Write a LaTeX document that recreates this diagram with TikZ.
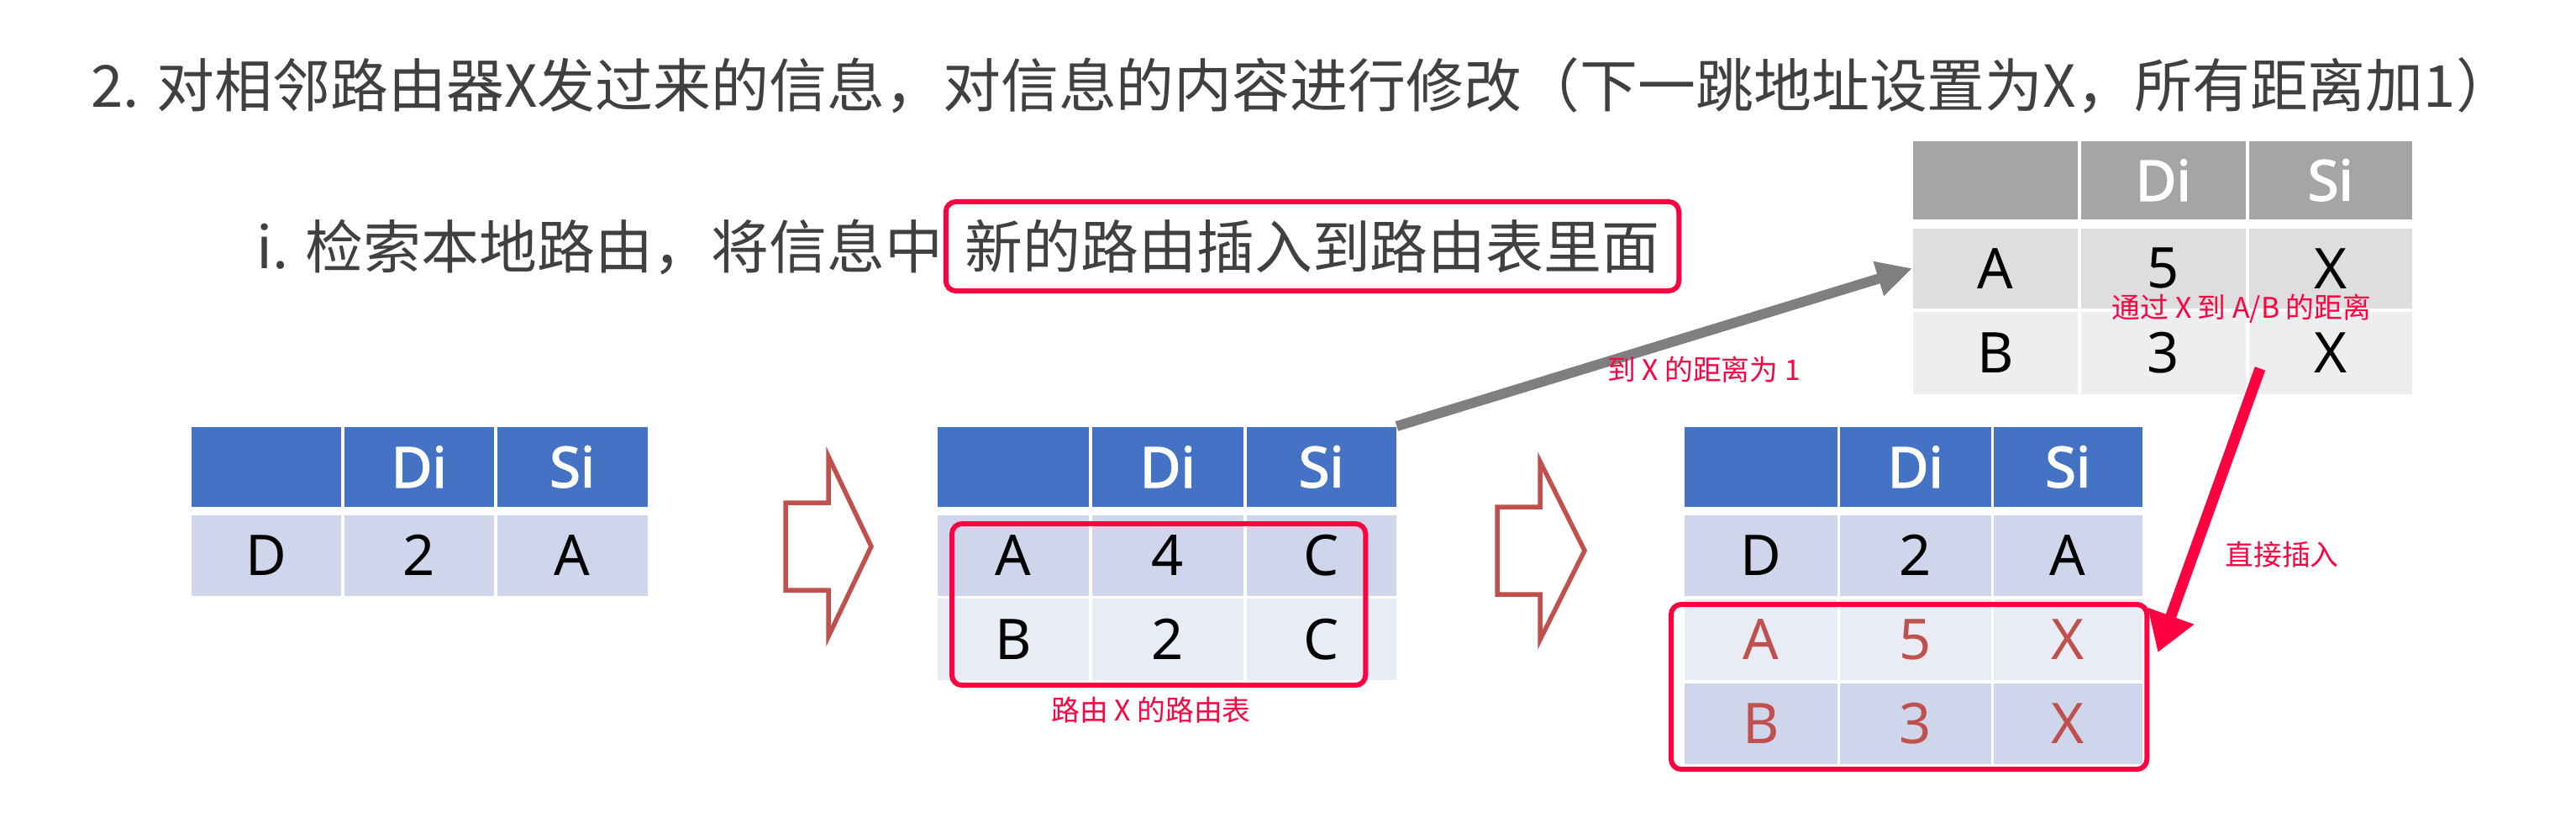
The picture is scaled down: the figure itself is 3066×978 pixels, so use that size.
\documentclass[tikz,border=0pt]{standalone}
\usepackage{fontspec}
\setmainfont{Noto Sans CJK SC}
\newfontfamily\cellfont{Noto Sans}
\newfontfamily\cellboldfont[FakeBold=2.2]{Noto Sans}
\usetikzlibrary{arrows.meta,calc}
\definecolor{hblue}{HTML}{4472C4}
\definecolor{lav}{HTML}{CFD5EA}
\definecolor{lavl}{HTML}{E9EBF5}
\definecolor{ghead}{HTML}{A5A5A5}
\definecolor{grow1}{HTML}{DEDEDE}
\definecolor{grow2}{HTML}{EEEEEE}
\definecolor{pinkred}{HTML}{FF0040}
\definecolor{ored}{HTML}{C0504D}
\definecolor{txtgray}{HTML}{404040}
\definecolor{arrgray}{HTML}{7F7F7F}
\newcommand{\cellat}[7]{\node[#6,minimum width=#4*0.01cm,minimum height=#5*0.01cm] (#1) at (#2,#3) {#7};}
\begin{document}
\begin{tikzpicture}[x=0.01cm,y=-0.01cm,
  cellbox/.style={rectangle,inner sep=0pt,anchor=north west,text=black,font=\cellfont\fontsize{19}{22}\selectfont},
  hdrbox/.style={cellbox,fill=hblue,text=white,font=\cellboldfont\fontsize{19}{22}\selectfont},
  ghdrbox/.style={hdrbox,fill=ghead},
  lavbox/.style={cellbox,fill=lav},
  lavlbox/.style={cellbox,fill=lavl},
  gonebox/.style={cellbox,fill=grow1},
  gtwobox/.style={cellbox,fill=grow2},
  newrow/.style={text=ored},
  redframe/.style={draw=pinkred,line width=0.06cm,rounded corners=0.12cm,inner sep=0pt,anchor=north west},
  lbl/.style={text=pinkred,font=\fontsize{9.6}{11}\selectfont,inner sep=0pt},
  titletext/.style={text=txtgray,font=\fontsize{19.6}{24}\selectfont,inner sep=0pt},
  blockarrow/.style={draw=ored,line width=0.055cm,line join=miter,fill=white},
  grayarrow/.style={draw=arrgray,line width=0.12cm,-{Triangle[length=0.42cm,width=0.4cm]}},
  redarrow/.style={draw=pinkred,line width=0.13cm,-{Triangle[length=0.46cm,width=0.55cm]}},
]
\useasboundingbox[fill=white] (0,0) rectangle (3066,978);

% titles
\node[titletext,anchor=west] (title) at (108,102) {2. 对相邻路由器X发过来的信息，对信息的内容进行修改（下一跳地址设置为X，所有距离加1）};
\node[titletext,draw=pinkred,line width=0.06cm,rounded corners=0.12cm,minimum width=8.72cm,minimum height=1.06cm] (sub2) at (1562,293) {新的路由插入到路由表里面};
\node[titletext,anchor=base east] (sub1) at (sub2.base west) {i. 检索本地路由，将信息中};

% block arrows
\draw[blockarrow] (935,598) -- (986,598) -- (986,543) -- (1037,650) -- (986,757) -- (986,702) -- (935,702) -- cycle;
\draw[blockarrow] (1782,603) -- (1833,603) -- (1833,549) -- (1886,655) -- (1833,761) -- (1833,707) -- (1782,707) -- cycle;

% table 1
\cellat{a11}{227}{507}{178}{95}{hdrbox}{}
\cellat{a12}{409}{507}{178}{95}{hdrbox}{Di}
\cellat{a13}{591}{507}{179}{95}{hdrbox}{Si}
\cellat{a21}{227}{612}{178}{96}{lavbox}{D}
\cellat{a22}{409}{612}{178}{96}{lavbox}{2}
\cellat{a23}{591}{612}{179}{96}{lavbox}{A}

% table 2
\cellat{b11}{1115}{507}{180}{95}{hdrbox}{}
\cellat{b12}{1299}{507}{180}{95}{hdrbox}{Di}
\cellat{b13}{1483}{507}{178}{95}{hdrbox}{Si}
\cellat{b21}{1115}{612}{180}{96}{lavbox}{A}
\cellat{b22}{1299}{612}{180}{96}{lavbox}{4}
\cellat{b23}{1483}{612}{178}{96}{lavbox}{C}
\cellat{b31}{1115}{711}{180}{97}{lavlbox}{B}
\cellat{b32}{1299}{711}{180}{97}{lavlbox}{2}
\cellat{b33}{1483}{711}{178}{97}{lavlbox}{C}
\node[redframe,minimum width=4.92cm,minimum height=1.92cm] (box2) at (1130,620) {};

% table 3
\cellat{c11}{2004}{507}{182}{95}{hdrbox}{}
\cellat{c12}{2189}{507}{180}{95}{hdrbox}{Di}
\cellat{c13}{2372}{507}{177}{95}{hdrbox}{Si}
\cellat{c21}{2004}{612}{182}{96}{lavbox}{D}
\cellat{c22}{2189}{612}{180}{96}{lavbox}{2}
\cellat{c23}{2372}{612}{177}{96}{lavbox}{A}
\cellat{c31}{2004}{712}{182}{96}{lavlbox,newrow}{A}
\cellat{c32}{2189}{712}{180}{96}{lavlbox,newrow}{5}
\cellat{c33}{2372}{712}{177}{96}{lavlbox,newrow}{X}
\cellat{c41}{2004}{812}{182}{96}{lavbox,newrow}{B}
\cellat{c42}{2189}{812}{180}{96}{lavbox,newrow}{3}
\cellat{c43}{2372}{812}{177}{96}{lavbox,newrow}{X}
\node[redframe,minimum width=5.66cm,minimum height=1.96cm] (box3) at (1986,716) {};

% gray table
\cellat{g11}{2276}{167}{196}{93}{ghdrbox}{}
\cellat{g12}{2476}{167}{196}{93}{ghdrbox}{Di}
\cellat{g13}{2676}{167}{194}{93}{ghdrbox}{Si}
\cellat{g21}{2276}{271}{196}{95}{gonebox}{A}
\cellat{g22}{2476}{271}{196}{95}{gonebox}{5}
\cellat{g23}{2676}{271}{194}{95}{gonebox}{X}
\cellat{g31}{2276}{370}{196}{98}{gtwobox}{B}
\cellat{g32}{2476}{370}{196}{98}{gtwobox}{3}
\cellat{g33}{2676}{370}{194}{98}{gtwobox}{X}

% connectors
\draw[grayarrow] (b13.north east) -- (g21.west);
\coordinate (rs) at ($(g33.south west)+(14,-31)$);
\coordinate (re) at ($(box3.east)+(10,-41)$);
\draw[redarrow] (rs) -- (re);

% labels
\node[lbl] (l1) at (2028,440) {到 X 的距离为 1};
\node[lbl] (l2) at (2668,367) {通过 X 到 A/B 的距离};
\node[lbl] (l3) at (2716,660) {直接插入};
\node[lbl] (l4) at (1370,845) {路由 X 的路由表};
\end{tikzpicture}
\end{document}
